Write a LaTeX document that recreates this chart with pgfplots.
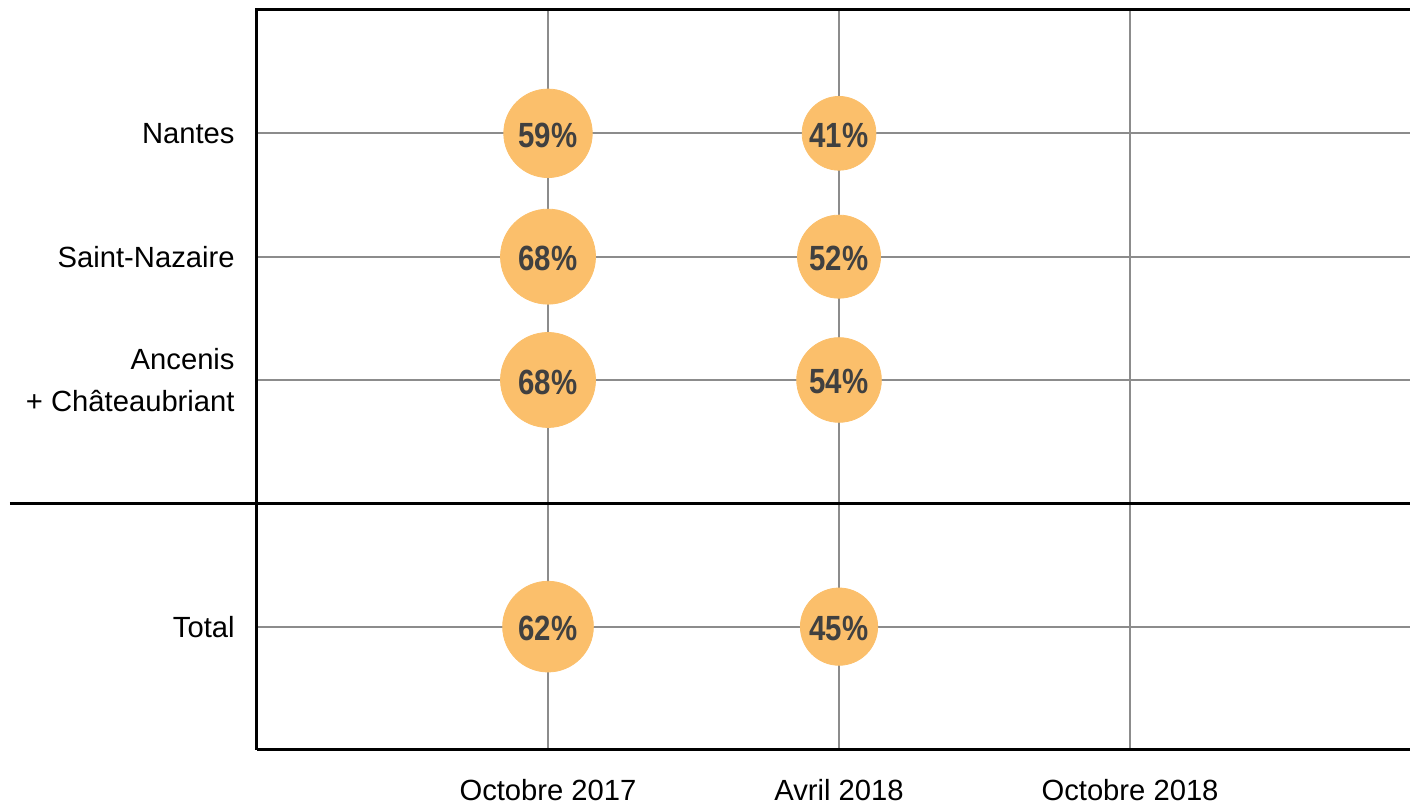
\documentclass[border=0pt]{standalone}
\usepackage{pgfplots}
\pgfplotsset{compat=1.18}
\usepackage{pgfplotstable}
\usepackage{fontspec}
\setmainfont{Liberation Sans}
\newfontfamily\bubblefont{Liberation Sans}[FakeStretch=0.84]
\definecolor{bubble}{HTML}{FBBF6B}
\definecolor{lbl}{HTML}{404040}
\definecolor{grd}{HTML}{8C8C8C}
\pgfplotstableread{
x y v
1 5 59
2 5 41
1 4 68
2 4 52
1 3 68
2 3 54
1 1 62
2 1 45
}\data
\begin{document}
\begin{tikzpicture}
\begin{axis}[
 scale only axis, width=576.5pt, height=370pt,
 xmin=0, xmax=3.962, ymin=0, ymax=6,
 axis line style={draw=none},
 xtick={1,2,3}, xticklabels={Octobre 2017, Avril 2018, Octobre 2018},
 ytick={1,3,4,5}, yticklabels={Total, {Ancenis\\+ Châteaubriant}, Saint-Nazaire, Nantes},
 major tick length=0pt,
 grid=major, major grid style={grd, line width=1pt},
 tick label style={font=\fontsize{14.6}{21}\selectfont, text=black},
 yticklabel style={align=right, inner sep=0pt, xshift=-11pt},
 xticklabel style={inner sep=0pt, yshift=-14.5pt},
 clip=false,
]
\addplot[scatter, only marks, mark=*,
  point meta=explicit,
  mark options={draw=bubble, fill=bubble},
  scatter/use mapped color={draw=bubble, fill=bubble},
  visualization depends on={\thisrow{v} \as \val},
  scatter/@pre marker code/.append style={/tikz/mark size={23.75*sqrt(\val/68)}},
] table[x=x, y=y, meta=v] {\data};
\addplot[only marks, mark=none, draw=none,
  point meta=explicit,
  nodes near coords={\pgfmathprintnumber[fixed,precision=0,assume math mode=true]{\pgfplotspointmeta}\%},
  every node near coord/.append style={font=\bubblefont\bfseries\fontsize{17.5}{20}\selectfont, text=lbl, inner sep=0pt, anchor=center, yshift=-1pt},
] table[x=x, y=y, meta=v] {\data};
\draw[line width=1.5pt] (rel axis cs:0,0) -- (rel axis cs:1,0);
\draw[line width=1.5pt] (rel axis cs:1,1) -- (rel axis cs:0,1) -- (rel axis cs:0,0);
\draw[line width=1.5pt] ([xshift=-123.5pt]axis cs:0,2) -- (axis cs:3.962,2);
\end{axis}
\pgfresetboundingbox
\path[use as bounding box] ([xshift=-128.5pt, yshift=-28.5pt]current axis.south west) rectangle ([yshift=5pt]current axis.north east);
\end{tikzpicture}
\end{document}
